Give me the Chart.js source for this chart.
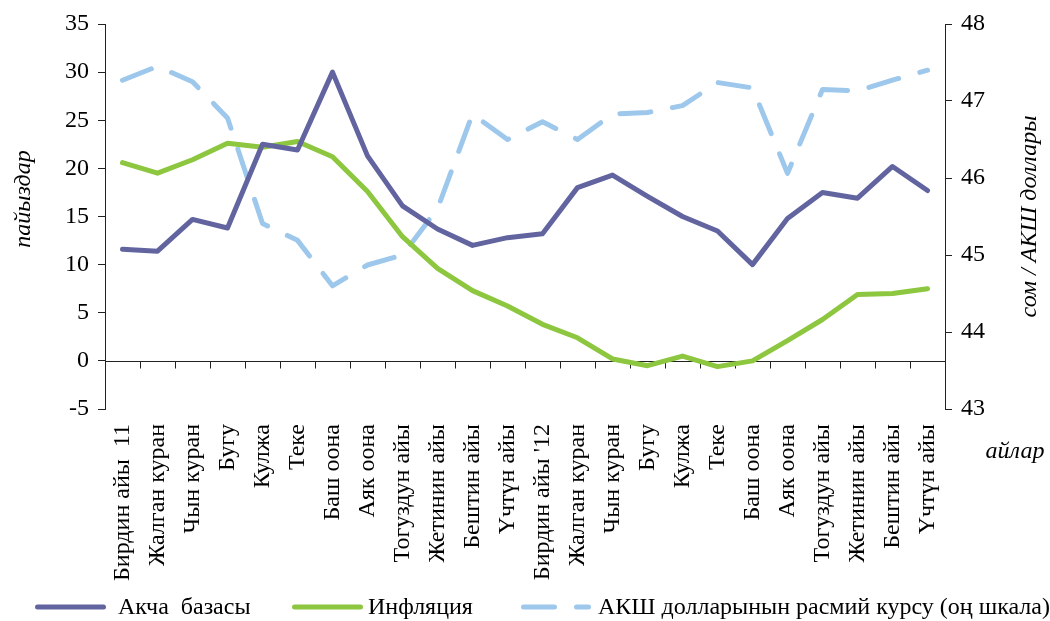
<!DOCTYPE html>
<html>
<head>
<meta charset="utf-8">
<script src="https://cdn.jsdelivr.net/npm/chart.js@4.4.1/dist/chart.umd.min.js"></script>
<style>
  html, body { margin: 0; padding: 0; background: #fff; }
</style>
</head>
<body>
<canvas id="myChart" width="1050" height="621"></canvas>
<script>
const months = ["Бирдин айы  11", "Жалган куран", "Чын куран", "Бугу", "Кулжа", "Теке", "Баш оона", "Аяк оона",
    "Тогуздун айы", "Жетинин айы", "Бештин айы", "Үчтүн айы", "Бирдин айы '12", "Жалган куран", "Чын куран", "Бугу",
    "Кулжа", "Теке", "Баш оона", "Аяк оона", "Тогуздун айы", "Жетинин айы", "Бештин айы", "Үчтүн айы"];

// left scale, percent
const moneyBase = [11.6, 11.4, 14.7, 13.8, 22.5, 21.9, 30.0, 21.3, 16.1, 13.7, 12.0, 12.8,
    13.2, 18.0, 19.3, 17.1, 15.0, 13.5, 10.0, 14.8, 17.5, 16.9, 20.2, 17.7];
const inflation = [20.6, 19.5, 20.9, 22.6, 22.2, 22.8, 21.2, 17.6, 12.9, 9.6, 7.3, 5.7,
    3.8, 2.4, 0.2, -0.5, 0.5, -0.6, 0.0, 2.1, 4.3, 6.9, 7.0, 7.5];
// right scale, som per USD
const usdRate = [47.27, 47.45, 47.25, 46.78, 45.41, 45.19, 44.60, 44.87, 45.00, 45.60, 46.83, 46.50,
    46.73, 46.50, 46.83, 46.85, 46.94, 47.24, 47.17, 46.06, 47.15, 47.13, 47.27, 47.40];

const serif = '"Liberation Serif", "Times New Roman", serif';
const axisColor = '#222';

// legend slots: line start, line end, text start
const legendSlots = [[35, 106, 118], [292, 363, 368], [521, 591, 598]];
const legendY = 607;

// zero line with month ticks, axis titles and legend
const extras = {
    id: 'extras',
    beforeDatasetsDraw(chart) {
        const { ctx, scales: { x, y } } = chart;
        const y0 = Math.round(y.getPixelForValue(0)) + 0.5;
        const n = months.length;
        const step = (x.right - x.left) / n;
        ctx.save();
        ctx.strokeStyle = axisColor;
        ctx.lineWidth = 1;
        ctx.beginPath();
        ctx.moveTo(x.left, y0);
        ctx.lineTo(x.right, y0);
        for (let i = 0; i <= n; i++) {
            const px = Math.round(x.left + i * step) + 0.5;
            ctx.moveTo(px, y0);
            ctx.lineTo(px, y0 + 7);
        }
        ctx.stroke();
        ctx.restore();
    },
    afterDraw(chart) {
        const { ctx, chartArea } = chart;
        const midY = (chartArea.top + chartArea.bottom) / 2;
        ctx.save();
        ctx.fillStyle = '#000';
        ctx.font = 'italic 24px ' + serif;
        ctx.textAlign = 'center';
        ctx.textBaseline = 'middle';

        ctx.save();
        ctx.translate(24, 199);
        ctx.rotate(-Math.PI / 2);
        ctx.fillText('пайыздар', 0, 0);
        ctx.restore();

        ctx.save();
        ctx.translate(1030, midY);
        ctx.rotate(-Math.PI / 2);
        ctx.fillText('сом / АКШ доллары', 0, 0);
        ctx.restore();

        ctx.fillText('айлар', 1015, 452);

        // legend
        ctx.font = '24px ' + serif;
        ctx.textAlign = 'left';
        chart.data.datasets.forEach((ds, i) => {
            const [x0, x1, tx] = legendSlots[i];
            ctx.save();
            ctx.strokeStyle = ds.borderColor;
            ctx.lineWidth = ds.borderWidth;
            ctx.lineCap = 'round';
            ctx.setLineDash(ds.borderDash || []);
            ctx.beginPath();
            ctx.moveTo(x0 + 2.5, legendY);
            ctx.lineTo(x1 - 2.5, legendY);
            ctx.stroke();
            ctx.restore();
            ctx.fillText(ds.label, tx, legendY + 1);
        });
        ctx.restore();
    }
};

const ctx = document.getElementById('myChart').getContext('2d');

new Chart(ctx, {
    type: 'line',
    data: {
        labels: months,
        datasets: [{
            label: 'Акча  базасы',
            data: moneyBase,
            yAxisID: 'y',
            borderColor: '#6264A0',
            borderWidth: 5,
            borderJoinStyle: 'round',
            borderCapStyle: 'round'
        }, {
            label: 'Инфляция',
            data: inflation,
            yAxisID: 'y',
            borderColor: '#8DC63F',
            borderWidth: 5,
            borderJoinStyle: 'round',
            borderCapStyle: 'round'
        }, {
            label: 'АКШ долларынын расмий курсу (оң шкала)',
            data: usdRate,
            yAxisID: 'y1',
            borderColor: '#9DC8EC',
            borderWidth: 5,
            borderDash: [31, 22],
            borderJoinStyle: 'round',
            borderCapStyle: 'round'
        }]
    },
    options: {
        responsive: false,
        animation: false,
        devicePixelRatio: 1,
        layout: { padding: { top: 24, left: 0, right: 0, bottom: 0 } },
        elements: {
            point: { radius: 0, hoverRadius: 0 },
            line: { tension: 0, fill: false }
        },
        plugins: {
            tooltip: { enabled: false },
            legend: { display: false }
        },
        scales: {
            x: {
                offset: true,
                grid: { display: false, drawTicks: false },
                border: { display: false },
                ticks: {
                    autoSkip: false,
                    maxRotation: 90,
                    minRotation: 90,
                    padding: 15,
                    color: '#000',
                    font: { family: serif, size: 24 }
                },
                afterFit(s) { s.height = 621 - 409; }
            },
            y: {
                position: 'left',
                min: -5,
                max: 35,
                ticks: {
                    stepSize: 5,
                    padding: 9,
                    color: '#000',
                    font: { family: serif, size: 24 }
                },
                grid: { drawOnChartArea: false, drawTicks: true, tickLength: 7, color: axisColor },
                border: { display: true, color: axisColor },
                afterFit(s) { s.width = 105; }
            },
            y1: {
                position: 'right',
                min: 43,
                max: 48,
                ticks: {
                    stepSize: 1,
                    padding: 9,
                    color: '#000',
                    font: { family: serif, size: 24 }
                },
                grid: { drawOnChartArea: false, drawTicks: true, tickLength: 7, color: axisColor },
                border: { display: true, color: axisColor },
                afterFit(s) { s.width = 105; }
            }
        }
    },
    plugins: [extras]
});
</script>
</body>
</html>
